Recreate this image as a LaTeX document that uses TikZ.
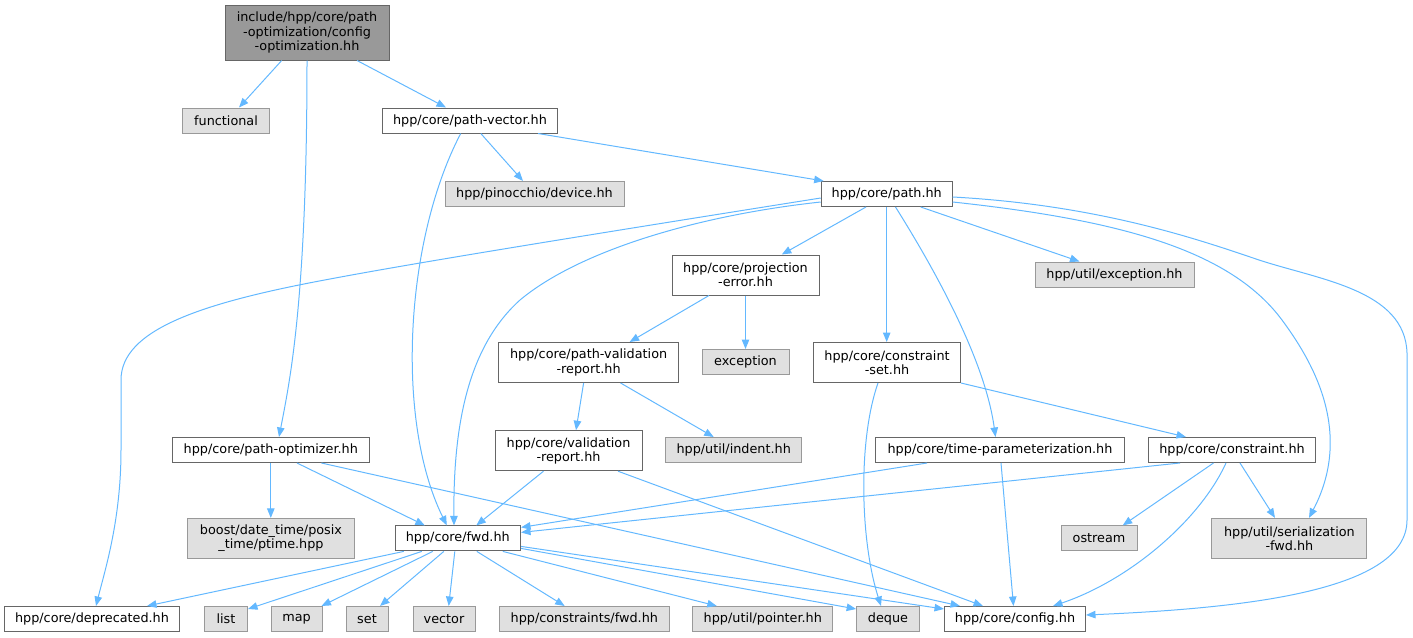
\documentclass[tikz,border=0pt]{standalone}
\usepackage{fontspec}
\setmainfont{DejaVu Sans}
\usetikzlibrary{arrows.meta}
\definecolor{edgec}{HTML}{63B8FF}
\definecolor{bordA}{HTML}{666666}
\definecolor{bordB}{HTML}{999999}
\definecolor{fillB}{HTML}{E0E0E0}
\definecolor{fillM}{HTML}{999999}
\tikzset{
  filebox/.style={draw=bordA, fill=white, line width=1pt, inner sep=0pt, align=center,
    font=\fontsize{12.8}{14.3}\selectfont},
  extbox/.style={filebox, draw=bordB, fill=fillB},
  mainbox/.style={filebox, draw=bordA, fill=fillM},
  edge/.style={draw=edgec, line width=1pt, -{Triangle[length=9.5pt,width=7.5pt]}}
}
\newcommand\mkbox[7]{\node[#6, minimum width=#4pt, minimum height=#5pt] (#1) at (#2,#3) {#7};}
\begin{document}
\begin{tikzpicture}[x=1pt,y=-1pt]
\useasboundingbox (0,0) rectangle (1413,637);
\mkbox{main}{307}{32.5}{164}{55}{mainbox}{include/hpp/core/path\\-optimization/config\\-optimization.hh}
\mkbox{functional}{226}{120.5}{87}{25}{extbox}{functional}
\mkbox{pathvector}{470}{120.5}{175}{25}{filebox}{hpp/core/path-vector.hh}
\mkbox{device}{534.5}{194}{179}{25}{extbox}{hpp/pinocchio/device.hh}
\mkbox{path}{886.7}{194}{131}{25}{filebox}{hpp/core/path.hh}
\mkbox{projerr}{745.5}{275}{147}{40}{filebox}{hpp/core/projection\\-error.hh}
\mkbox{utilexc}{1114.5}{274.5}{159}{25}{extbox}{hpp/util/exception.hh}
\mkbox{pvr}{588.6}{362.5}{180}{40}{filebox}{hpp/core/path-validation\\-report.hh}
\mkbox{exception}{745.5}{362}{87}{25}{extbox}{exception}
\mkbox{cset}{887}{362.5}{147}{40}{filebox}{hpp/core/constraint\\-set.hh}
\mkbox{vr}{568.5}{450.7}{147}{40}{filebox}{hpp/core/validation\\-report.hh}
\mkbox{indent}{733.7}{450}{136}{25}{extbox}{hpp/util/indent.hh}
\mkbox{pathopt}{270.8}{450}{197.6}{25}{filebox}{hpp/core/path-optimizer.hh}
\mkbox{tp}{1000}{450}{249.5}{25}{filebox}{hpp/core/time-parameterization.hh}
\mkbox{constraint}{1232}{450}{167.4}{25}{filebox}{hpp/core/constraint.hh}
\mkbox{boost}{271}{538.4}{167}{40}{extbox}{boost/date\_time/posix\\\_time/ptime.hpp}
\mkbox{fwd}{457.8}{538.4}{125.5}{25}{filebox}{hpp/core/fwd.hh}
\mkbox{ostream}{1099}{538.4}{76}{25}{extbox}{ostream}
\mkbox{serfwd}{1289.4}{538.4}{155}{40}{extbox}{hpp/util/serialization\\-fwd.hh}
\mkbox{deprecated}{92}{619}{175.5}{25}{filebox}{hpp/core/deprecated.hh}
\mkbox{list}{226}{619}{43}{25}{extbox}{list}
\mkbox{map}{296.5}{619}{51}{25}{extbox}{map}
\mkbox{set}{367}{619}{42}{25}{extbox}{set}
\mkbox{vector}{444}{619}{62}{25}{extbox}{vector}
\mkbox{cfwd}{584.3}{619}{169.4}{25}{extbox}{hpp/constraints/fwd.hh}
\mkbox{pointer}{762.8}{619}{140}{25}{extbox}{hpp/util/pointer.hh}
\mkbox{deque}{888}{619}{62.7}{25}{extbox}{deque}
\mkbox{config}{1015}{619}{141}{25}{filebox}{hpp/core/config.hh}

% main
\draw[edge] ([xshift=-25.3pt]main.south) -- ([xshift=13pt]functional.north);
\draw[edge] (main.south) .. controls (307,300) and (290,380) .. ([xshift=8.2pt]pathopt.north);
\draw[edge] ([xshift=50pt]main.south) -- ([xshift=-24pt]pathvector.north);
% path-vector
\draw[edge] ([xshift=10.8pt]pathvector.south) -- ([xshift=-11.5pt]device.north);
\draw[edge] ([xshift=68pt]pathvector.south) -- ([xshift=3pt]path.north west);
\draw[edge] ([xshift=-9.3pt]pathvector.south) .. controls (405,240) and (395,420) .. ([xshift=-11pt]fwd.north);
% path
\draw[edge] ([yshift=-4pt]path.west) .. controls (600,233) and (420,262) .. (330,279)
  .. controls (200,303) and (121,330) .. (121,380) -- (121,450)
  .. controls (121,520) and (105,570) .. ([xshift=4pt]deprecated.north);
\draw[edge] ([yshift=-8pt]path.west) .. controls (700,215) and (580,250) .. (520,300)
  .. controls (470,345) and (453,420) .. ([xshift=-3.8pt]fwd.north);
\draw[edge] ([xshift=-20.7pt]path.south) -- ([xshift=36.3pt]projerr.north);
\draw[edge] (path.south) -- (path.south |- cset.north);
\draw[edge] ([xshift=8.8pt]path.south) .. controls (935,270) and (985,360) .. ([xshift=-4.5pt]tp.north);
\draw[edge] ([xshift=34pt]path.south) -- ([xshift=-35pt]utilexc.north);
\draw[edge] ([yshift=-8pt]path.east) .. controls (1120,220) and (1230,250) .. (1282,320)
  .. controls (1310,358) and (1355,430) .. ([xshift=19.6pt]serfwd.north);
\draw[edge] ([yshift=-3pt]path.east) .. controls (1100,205) and (1200,240) .. (1259,260)
  .. controls (1320,280) and (1405,290) .. (1407,353) -- (1407,520)
  .. controls (1407,590) and (1250,608) .. ([yshift=4pt]config.east);
% projection-error
\draw[edge] ([xshift=-36.5pt]projerr.south) -- ([xshift=41pt]pvr.north);
\draw[edge] (projerr.south) -- (exception.north);
% path-validation-report
\draw[edge] ([xshift=-5pt]pvr.south) -- ([xshift=7.5pt]vr.north);
\draw[edge] ([xshift=32pt]pvr.south) -- ([xshift=-20pt]indent.north);
% validation-report
\draw[edge] ([xshift=-25pt]vr.south) -- ([xshift=18.5pt]fwd.north);
\draw[edge] ([xshift=49.5pt]vr.south) -- ([xshift=-32pt]config.north);
% constraint-set
\draw[edge] ([xshift=-9pt]cset.south) .. controls (858,440) and (860,540) .. ([xshift=-7pt]deque.north);
\draw[edge] (cset.south east) -- ([xshift=-46pt]constraint.north);
% time-parameterization
\draw[edge] ([xshift=-73pt]tp.south) -- ([yshift=11pt]fwd.east);
\draw[edge] ([xshift=1pt]tp.south) -- ([xshift=-1.5pt]config.north);
% constraint
\draw[edge] ([xshift=-52pt]constraint.south) -- ([yshift=6pt]fwd.east);
\draw[edge] ([xshift=-18.5pt]constraint.south) -- ([xshift=23.7pt]ostream.north);
\draw[edge] ([xshift=-6pt]constraint.south) .. controls (1200,520) and (1130,580) .. ([xshift=38pt]config.north);
\draw[edge] ([xshift=8pt]constraint.south) -- ([xshift=-14.4pt]serfwd.north);
% path-optimizer
\draw[edge] (pathopt.south) -- (pathopt.south |- boost.north);
\draw[edge] ([xshift=26.2pt]pathopt.south) -- ([xshift=-33pt]fwd.north);
\draw[edge] ([xshift=50.6pt]pathopt.south) -- ([xshift=-55pt]config.north);
% fwd
\draw[edge] ([xshift=-54pt]fwd.south) -- ([xshift=55pt]deprecated.north);
\draw[edge] ([xshift=-36pt]fwd.south) -- ([yshift=-3pt]list.north east);
\draw[edge] ([xshift=-25pt]fwd.south) -- ([xshift=-1pt]map.north east);
\draw[edge] ([xshift=-14pt]fwd.south) -- ([xshift=13pt]set.north);
\draw[edge] ([xshift=-3pt]fwd.south) -- ([xshift=4.7pt]vector.north);
\draw[edge] ([xshift=19pt]fwd.south) -- ([xshift=-19.6pt]cfwd.north);
\draw[edge] ([xshift=45pt]fwd.south) -- ([xshift=-46pt]pointer.north);
\draw[edge] ([yshift=-10pt]fwd.east) -- ([yshift=-3pt]deque.north west);
\draw[edge] ([yshift=-8pt]fwd.east) -- ([yshift=-3pt]config.north west);
\end{tikzpicture}
\end{document}
